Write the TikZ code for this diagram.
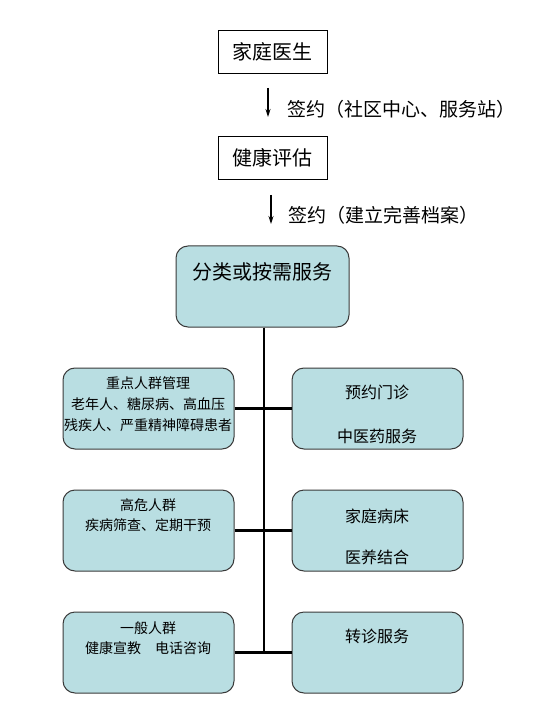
\documentclass[tikz,border=0pt]{standalone}
\usepackage{fontspec}
\setmainfont{Noto Sans CJK SC}
\usepackage{tikz}
\usetikzlibrary{arrows.meta,positioning,calc}
\definecolor{Teal}{HTML}{B9DEE2}
\definecolor{Edge}{HTML}{3A3A3A}

\begin{document}
\begin{tikzpicture}[x=1pt,y=-1pt,
  plainbox/.style={draw=black,line width=0.9pt,fill=white,minimum width=109pt,minimum height=43pt,inner sep=0pt},
  tealbox/.style={draw=Edge,line width=1pt,fill=Teal,rounded corners=12pt,minimum width=171pt,minimum height=81pt,inner sep=0pt},
  flow/.style={-{Stealth[length=8pt,width=5pt]},line width=1.1pt},
  trunk/.style={line width=2.8pt}]
\path[use as bounding box] (0,0) rectangle (540,708);
\fill[white] (0,0) rectangle (540,708);

% top of the chain
\node[plainbox,font=\fontsize{20pt}{24pt}\selectfont] (doctor) at (272.5,51.5) {家庭医生};
\node[plainbox,font=\fontsize{20pt}{24pt}\selectfont] (assess) at (272.5,157.5) {健康评估};
\coordinate (a1top) at (268,88);
\coordinate (a1end) at (268,117);
\draw[flow] (a1top) -- (a1end);
\node[anchor=west,font=\fontsize{19pt}{22pt}\selectfont] (sign1) at (284,109) {签约（社区中心、服务站）};
\coordinate (a2top) at (271,195);
\coordinate (a2end) at (271,224);
\draw[flow] (a2top) -- (a2end);
\node[anchor=west,font=\fontsize{19pt}{22pt}\selectfont] (sign2) at (285,215) {签约（建立完善档案）};

% classification box
\node[tealbox,minimum width=173pt] (sort) at (262.5,286.5) {};
\node[font=\fontsize{20pt}{24pt}\selectfont] (sorttxt) at (262.5,272) {分类或按需服务};

% left column: population groups
\node[tealbox] (key) at (148.5,408.5) {};
\node[tealbox] (risk) at (148.5,530.5) {};
\node[tealbox] (general) at (148.5,652.5) {};
\node[align=center,font=\fontsize{14pt}{21pt}\selectfont] (keytxt) at (148,404) {重点人群管理\\老年人、糖尿病、高血压\\残疾人、严重精神障碍患者};
\node[align=center,font=\fontsize{14pt}{20pt}\selectfont] (risktxt) at (148,515) {高危人群\\疾病筛查、定期干预};
\node[align=center,font=\fontsize{14pt}{20pt}\selectfont] (generaltxt) at (148,638) {一般人群\\健康宣教　电话咨询};

% right column: services
\node[tealbox] (clinic) at (377.5,408.5) {};
\node[tealbox] (bed) at (377.5,530.5) {};
\node[tealbox] (refer) at (377.5,652.5) {};
\node[font=\fontsize{16pt}{19pt}\selectfont] (clinictxt) at (377,392) {预约门诊};
\node[font=\fontsize{16pt}{19pt}\selectfont] (tcmtxt) at (377,436) {中医药服务};
\node[font=\fontsize{16pt}{19pt}\selectfont] (bedtxt) at (377,516) {家庭病床};
\node[font=\fontsize{16pt}{19pt}\selectfont] (caretxt) at (377,557) {医养结合};
\node[font=\fontsize{16pt}{19pt}\selectfont] (refertxt) at (377,636) {转诊服务};

% connectors
\coordinate (trunkend) at (sort.south |- general.east);
\draw[trunk] ([xshift=1.5pt]sort.south) -- ([xshift=1.5pt]trunkend);
\draw[trunk] (key.east) -- (clinic.west);
\draw[trunk] (risk.east) -- (bed.west);
\draw[trunk] (general.east) -- (refer.west);
\end{tikzpicture}
\end{document}
